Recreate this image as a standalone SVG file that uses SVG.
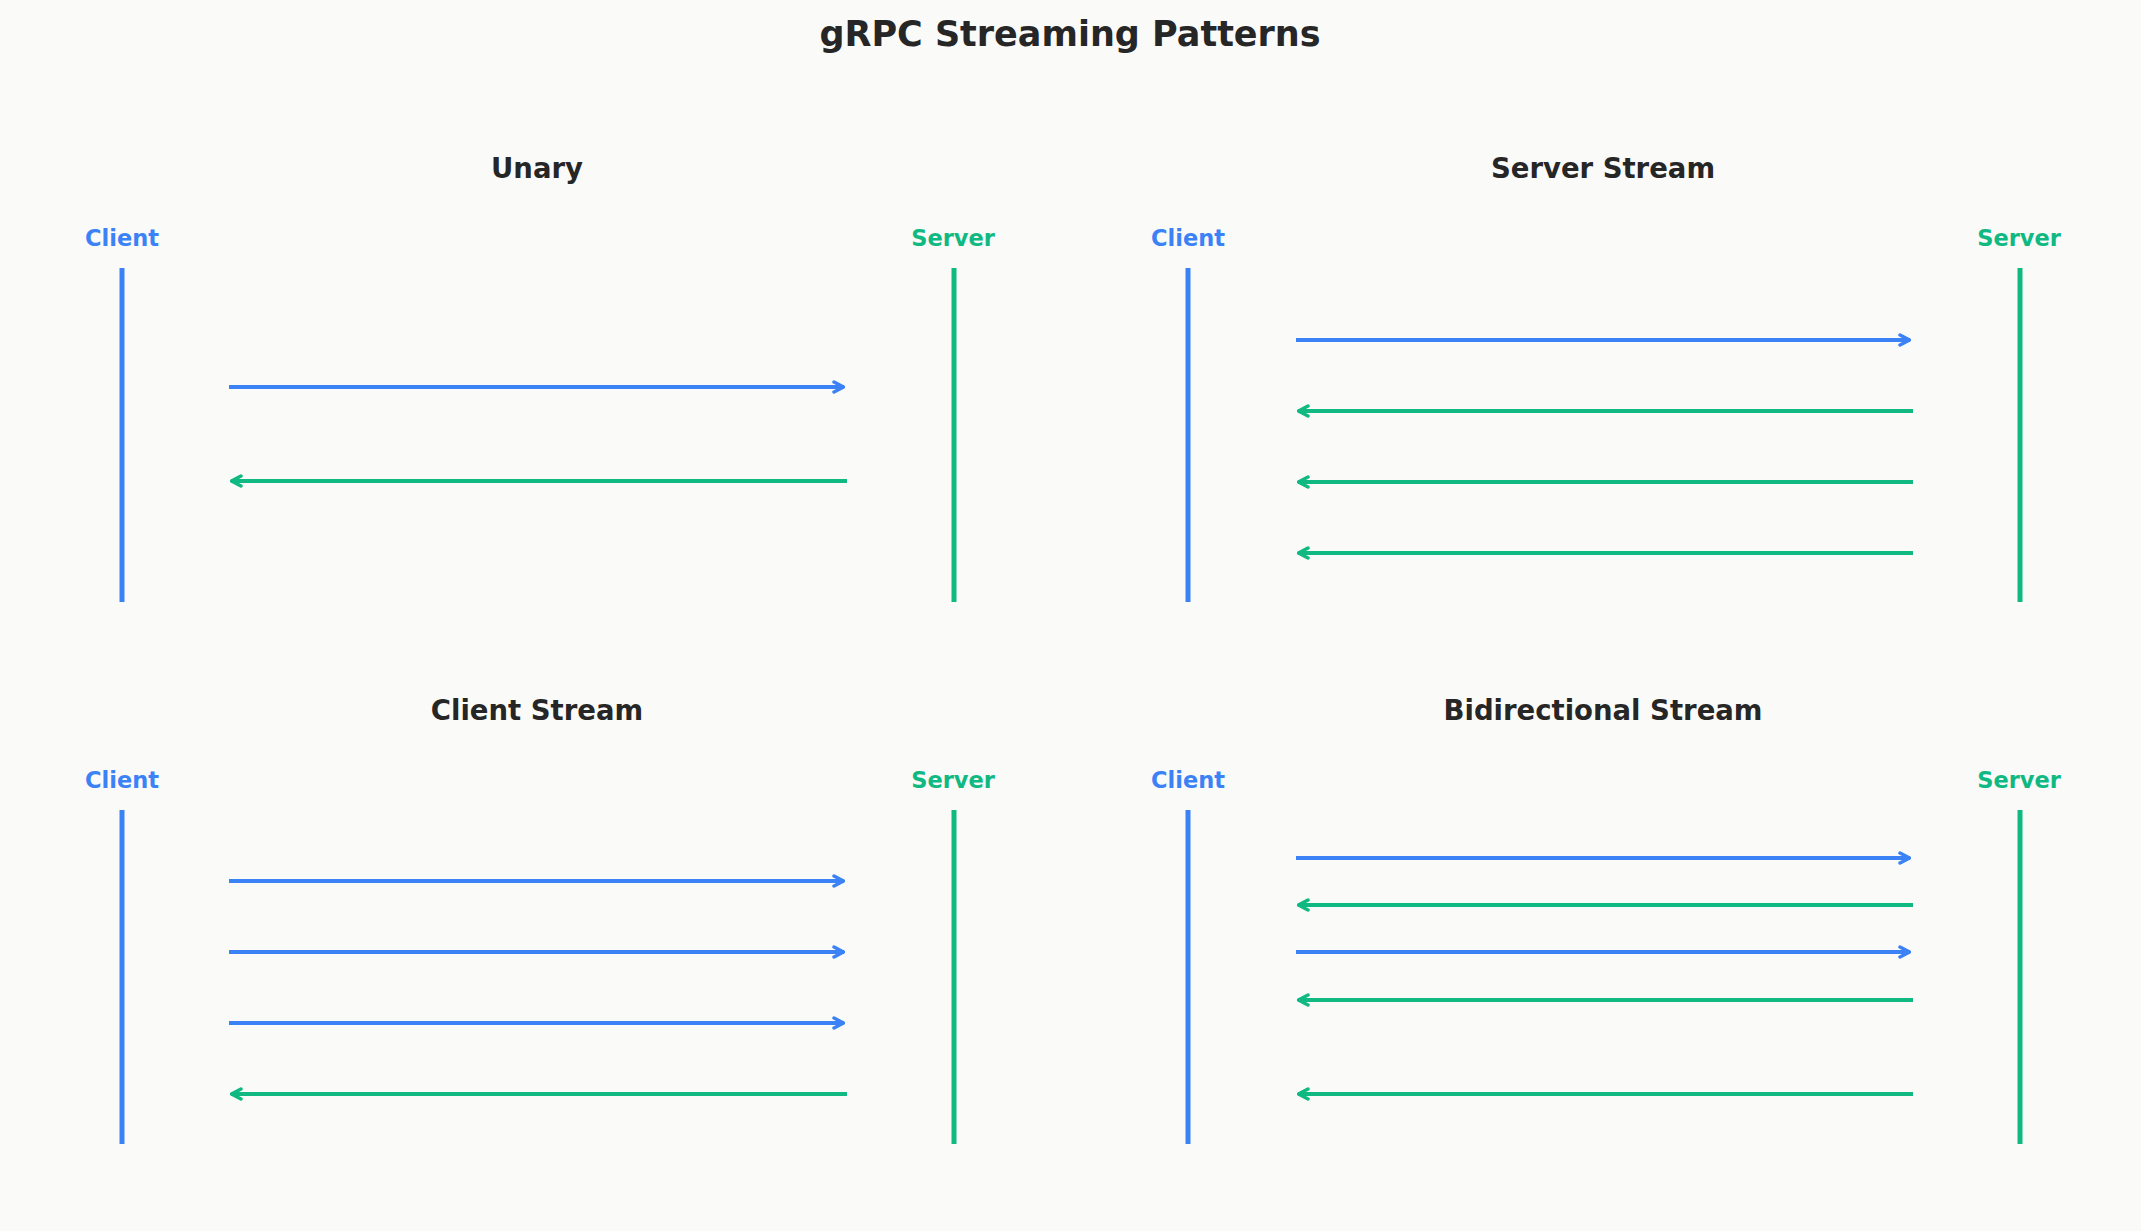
<svg xmlns="http://www.w3.org/2000/svg" width="2141" height="1231" viewBox="0 0 2141 1231">
<style>
text{font-family:"DejaVu Sans",sans-serif;font-weight:bold;text-anchor:middle}
.t{font-size:35px;fill:#262626}
.p{font-size:27.5px;fill:#262626}
.c{font-size:22.5px;fill:#3b82f6}
.s{font-size:22.5px;fill:#10b981}
.lc{stroke:#3b82f6;stroke-width:5}
.ls{stroke:#10b981;stroke-width:5}
.ab{stroke:#3b82f6;stroke-width:4;fill:none;marker-end:url(#mb)}
.ag{stroke:#10b981;stroke-width:4;fill:none;marker-end:url(#mg)}
</style>
<defs>
<marker id="mb" viewBox="0 0 14 14" refX="13" refY="7" markerWidth="14" markerHeight="14" markerUnits="userSpaceOnUse" orient="auto"><path d="M3,2 L12.5,7 L3,12" fill="none" stroke="#3b82f6" stroke-width="3.5" stroke-linecap="round" stroke-linejoin="round"/></marker>
<marker id="mg" viewBox="0 0 14 14" refX="13" refY="7" markerWidth="14" markerHeight="14" markerUnits="userSpaceOnUse" orient="auto"><path d="M3,2 L12.5,7 L3,12" fill="none" stroke="#10b981" stroke-width="3.5" stroke-linecap="round" stroke-linejoin="round"/></marker>
</defs>
<rect width="2141" height="1231" fill="#fafaf9"/>
<text class="t" x="1070" y="46">gRPC Streaming Patterns</text>
<g id="unary">
<text class="p" x="537" y="178">Unary</text>
<text class="c" x="122" y="246">Client</text><text class="s" x="953" y="246">Server</text>
<line class="lc" x1="122" y1="268" x2="122" y2="602"/><line class="ls" x1="954" y1="268" x2="954" y2="602"/>
</g>
<g id="server-stream">
<text class="p" x="1603" y="178">Server Stream</text>
<text class="c" x="1188" y="246">Client</text><text class="s" x="2019" y="246">Server</text>
<line class="lc" x1="1188" y1="268" x2="1188" y2="602"/><line class="ls" x1="2020" y1="268" x2="2020" y2="602"/>
</g>
<g id="client-stream">
<text class="p" x="537" y="720">Client Stream</text>
<text class="c" x="122" y="788">Client</text><text class="s" x="953" y="788">Server</text>
<line class="lc" x1="122" y1="810" x2="122" y2="1144"/><line class="ls" x1="954" y1="810" x2="954" y2="1144"/>
</g>
<g id="bidi-stream">
<text class="p" x="1603" y="720">Bidirectional Stream</text>
<text class="c" x="1188" y="788">Client</text><text class="s" x="2019" y="788">Server</text>
<line class="lc" x1="1188" y1="810" x2="1188" y2="1144"/><line class="ls" x1="2020" y1="810" x2="2020" y2="1144"/>
</g>
<g id="connectors">
<line class="ab" x1="229" y1="387" x2="844" y2="387"/>
<line class="ag" x1="847" y1="481" x2="231" y2="481"/>
<line class="ab" x1="1296" y1="340" x2="1910" y2="340"/>
<line class="ag" x1="1913" y1="411" x2="1298" y2="411"/>
<line class="ag" x1="1913" y1="482" x2="1298" y2="482"/>
<line class="ag" x1="1913" y1="553" x2="1298" y2="553"/>
<line class="ab" x1="229" y1="881" x2="844" y2="881"/>
<line class="ab" x1="229" y1="952" x2="844" y2="952"/>
<line class="ab" x1="229" y1="1023" x2="844" y2="1023"/>
<line class="ag" x1="847" y1="1094" x2="231" y2="1094"/>
<line class="ab" x1="1296" y1="858" x2="1910" y2="858"/>
<line class="ag" x1="1913" y1="905" x2="1298" y2="905"/>
<line class="ab" x1="1296" y1="952" x2="1910" y2="952"/>
<line class="ag" x1="1913" y1="1000" x2="1298" y2="1000"/>
<line class="ag" x1="1913" y1="1094" x2="1298" y2="1094"/>
</g>
</svg>
